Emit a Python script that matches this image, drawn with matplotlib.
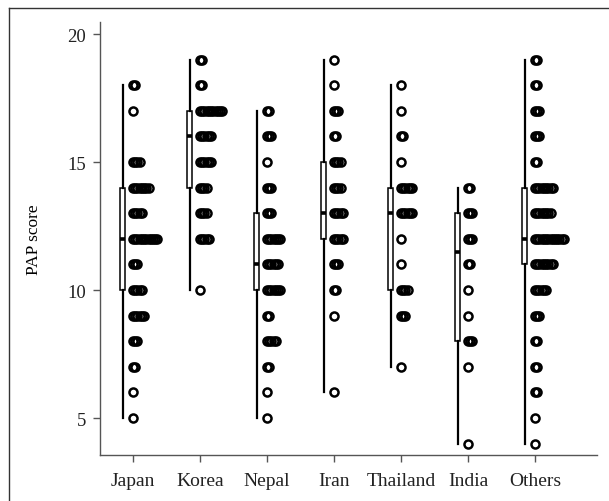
import numpy as np
import matplotlib
matplotlib.use("Agg")
import matplotlib.pyplot as plt
from matplotlib.lines import Line2D

plt.rcParams['font.family'] = ['Liberation Serif', 'DejaVu Serif']

paises = ["Japan", "Korea", "Nepal", "Iran", "Thailand", "India", "Others"]

# estadisticos de cada caja
bigote_inf = [5, 10, 5, 6, 7, 4, 4]
q1 = [10, 14, 10, 12, 10, 8, 11]
mediana = [12, 16, 11, 13, 13, 11.5, 12]
q3 = [14, 17, 13, 15, 14, 13, 14]
bigote_sup = [18, 19, 17, 19, 18, 14, 19]

# puntajes posibles y cuantos casos hay en cada uno
puntajes = list(range(4, 20))
#               4  5  6  7  8  9 10 11 12 13 14 15 16 17 18 19
n_japan =    [0, 1, 1, 2, 3, 6, 5, 3, 12, 5, 8, 4, 0, 1, 2, 0]
n_korea =    [0, 0, 0, 0, 0, 0, 1, 0, 5, 4, 4, 6, 6, 11, 2, 2]
n_nepal =    [0, 1, 1, 2, 5, 2, 7, 6, 7, 3, 3, 1, 3, 2, 0, 0]
n_iran =     [0, 0, 1, 0, 0, 1, 2, 3, 5, 5, 4, 4, 2, 3, 1, 1]
n_thailand = [0, 0, 0, 1, 0, 3, 4, 1, 1, 6, 6, 1, 2, 1, 1, 0]
n_india =    [1, 0, 0, 1, 3, 1, 1, 2, 3, 3, 2, 0, 0, 0, 0, 0]
n_others =   [1, 1, 2, 2, 2, 3, 6, 9, 14, 8, 9, 2, 3, 3, 2, 2]
conteos = [n_japan, n_korea, n_nepal, n_iran, n_thailand, n_india, n_others]

fig = plt.figure(figsize=(6.09, 5.02), dpi=100)
ax = fig.add_axes([100/609, 46/502, 497/609, 433/502])

# cajas
stats = []
for i in range(len(paises)):
    stats.append({"whislo": bigote_inf[i], "q1": q1[i], "med": mediana[i],
                  "q3": q3[i], "whishi": bigote_sup[i], "fliers": []})
pos = [i + 1 - 0.15 for i in range(len(paises))]
ax.bxp(stats, positions=pos, widths=0.075, showcaps=False, showfliers=False,
       patch_artist=True,
       boxprops=dict(facecolor="white", edgecolor="black", linewidth=1.1),
       whiskerprops=dict(color="black", linewidth=1.6),
       medianprops=dict(color="black", linewidth=2.6, solid_capstyle="butt"),
       manage_ticks=False, zorder=2)

# puntos apilados
paso = 0.033
for i in range(len(paises)):
    for v, n in zip(puntajes, conteos[i]):
        if n == 0:
            continue
        xs = [i + 1 + k*paso for k in range(n)]
        ax.plot(xs, [v]*n, linestyle="none", marker="o", markersize=5.8,
                markerfacecolor="none", markeredgecolor="black",
                markeredgewidth=1.8, zorder=3)

ax.set_xlim(0.507, 7.925)
ax.set_ylim(3.555, 20.47)
ax.set_xticks(range(1, len(paises) + 1))
ax.set_xticklabels(paises)
ax.set_yticks([5, 10, 15, 20])
ax.set_ylabel("PAP score", fontsize=12.5, labelpad=18)

for lado in ["top", "right"]:
    ax.spines[lado].set_visible(False)
for lado in ["left", "bottom"]:
    ax.spines[lado].set_color("#555555")
    ax.spines[lado].set_linewidth(1.0)
ax.tick_params(axis="both", colors="#555555", labelcolor="#222222",
               length=5, width=1.0)
ax.tick_params(axis="x", labelsize=14, pad=7)
ax.tick_params(axis="y", labelsize=13.5, pad=5)

# marco exterior (solo arriba e izquierda)
fig.add_artist(Line2D([9/609, 9/609], [0, 1 - 9/502], transform=fig.transFigure,
                      color="#333333", linewidth=1.0))
fig.add_artist(Line2D([9/609, 1], [1 - 9/502, 1 - 9/502], transform=fig.transFigure,
                      color="#333333", linewidth=1.0))

fig.savefig("out.png", dpi=100)
